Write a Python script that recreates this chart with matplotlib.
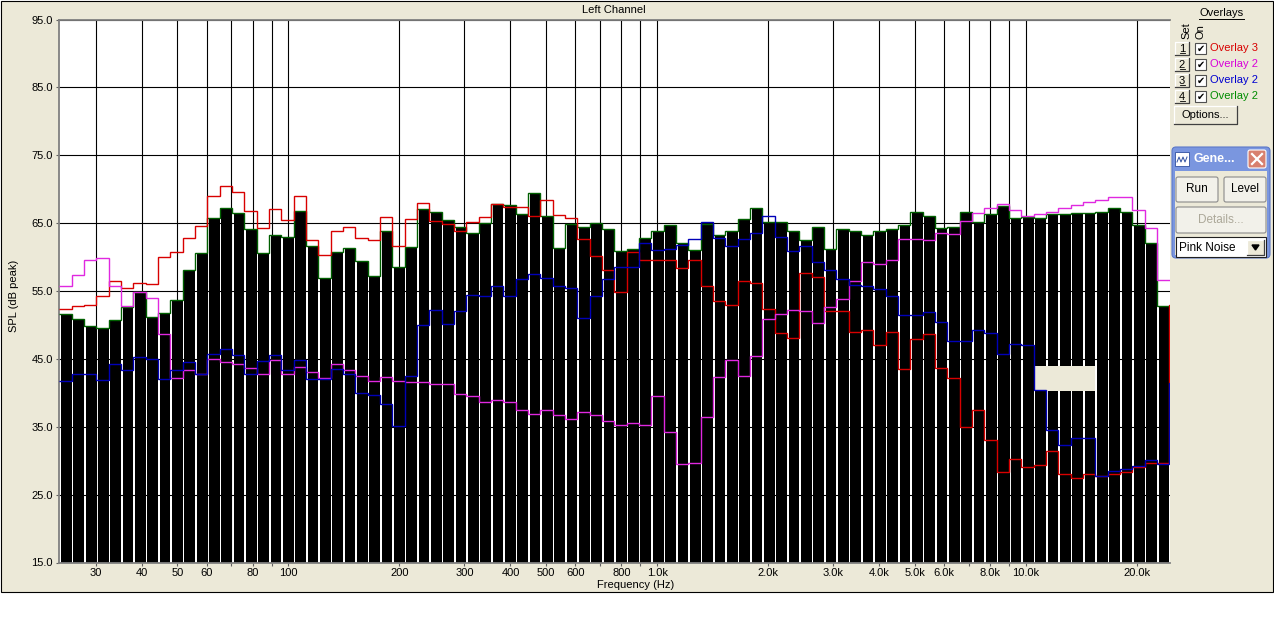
import numpy as np
import matplotlib
matplotlib.use("Agg")
import matplotlib.pyplot as plt
from matplotlib.patches import Rectangle, FancyBboxPatch
from matplotlib.ticker import NullLocator

plt.rcParams['font.family'] = ['Liberation Sans', 'DejaVu Sans']
plt.rcParams['font.size'] = 8

# analyzer bands: 1/9 octave, first band edge in Hz
first_edge_hz = 23.9
bands_per_octave = 9

# measured SPL per band (black bars)
bar_spl = [51.6, 50.9, 49.9, 49.6, 50.7, 52.7, 54.9, 51.1, 51.7, 53.7, 58.1, 60.6, 65.7, 67.2, 66.5,
           64.1, 60.6, 63.2, 62.9, 66.8, 61.6,
           56.9, 60.8, 61.3, 59.4, 57.2, 63.8, 58.6, 61.5, 67.1, 66.6, 65.4, 64.4, 63.6, 65.0, 67.8,
           67.6, 66.3, 69.4, 66.1, 61.3, 64.9, 64.4, 65.0, 64.1, 60.9, 61.2, 62.8, 63.9, 64.7, 62.1, 61.1,
           64.9, 63.2, 63.9, 65.6, 67.3, 65.1, 65.1, 63.9, 62.5, 64.4, 61.2, 64.2, 63.9, 63.2, 63.9,
           64.1, 64.7, 66.6, 66.0, 64.3, 64.5, 66.7, 65.2,
           66.3, 67.5, 65.7, 65.9, 65.7, 66.3, 66.3, 66.5, 66.5, 66.7, 67.3, 66.7, 64.7, 62.1, 52.8]

# overlays (last value = level at the right edge, only its jump is visible)
overlay3_red = [52.4, 52.8, 53.0, 54.3, 56.5, 55.4, 56.2, 56.0, 60.0, 60.8, 62.8, 64.6, 69.0, 70.5, 69.6,
                66.8, 64.3, 67.1, 65.5, 69.0, 62.5,
                60.3, 63.9, 64.4, 62.8, 62.5, 65.9, 61.7, 65.6, 68.0, 65.3, 64.8, 63.9, 65.1, 65.9, 67.8,
                67.4, 67.4, 66.0, 68.4, 66.2, 65.7, 62.6, 60.1, 58.1, 54.8, 60.7, 59.5, 59.5, 59.5, 58.4, 59.6,
                55.7, 53.6, 52.9, 56.5, 56.2, 52.4, 48.8, 48.1, 57.6, 57.1, 52.0, 52.0, 49.0, 49.2, 47.1,
                49.0, 43.5, 48.0, 48.7, 43.7, 42.2, 34.9, 37.5,
                33.1, 28.4, 30.2, 29.0, 29.4, 31.4, 28.1, 27.5, 28.0, 27.8, 28.0, 28.3, 29.0, 29.6, 29.6,
                53.0]
overlay2_magenta = [55.7, 57.3, 59.5, 59.9, 55.7, 52.8, 54.8, 54.0, 48.7, 42.2, 43.3, 42.7, 45.0, 44.5, 44.3,
                    43.6, 42.7, 44.9, 42.7, 43.8, 43.0,
                    42.2, 44.3, 43.3, 42.5, 41.8, 42.4, 41.8, 41.6, 41.6, 41.3, 41.3, 39.8, 39.5, 38.7, 39.0,
                    38.7, 37.4, 36.9, 37.5, 36.8, 36.2, 37.2, 36.8, 35.9, 35.3, 35.6, 35.3, 39.6, 34.2, 29.5, 29.7,
                    36.5, 42.4, 44.8, 42.5, 45.4, 50.9, 51.6, 52.2, 52.1, 50.3, 52.7, 53.8, 56.5, 59.2, 59.0,
                    59.5, 62.7, 62.7, 62.5, 63.6, 63.4, 65.3, 66.5,
                    67.3, 67.8, 66.9, 66.1, 66.4, 66.7, 67.3, 67.7, 68.1, 68.4, 68.8, 68.8, 66.9, 64.3, 56.6,
                    56.6]
overlay2_blue = [41.7, 42.7, 42.7, 41.9, 44.3, 43.4, 45.3, 45.0, 42.1, 43.3, 44.5, 42.7, 45.7, 46.5, 45.6,
                 42.8, 44.7, 45.6, 43.3, 44.8, 42.0,
                 42.1, 43.5, 42.8, 40.0, 39.7, 38.4, 35.1, 42.5, 50.0, 52.2, 50.1, 52.1, 54.4, 54.2, 55.7,
                 54.2, 56.8, 57.5, 56.9, 55.7, 55.4, 51.0, 54.2, 56.7, 58.6, 58.5, 62.0, 61.1, 61.2, 61.8, 62.6,
                 65.2, 62.8, 61.6, 62.6, 63.6, 66.0, 62.9, 60.9, 61.6, 59.3, 58.1, 56.8, 55.9, 55.8, 55.3,
                 54.2, 51.4, 51.5, 51.9, 50.4, 47.7, 47.7, 49.2,
                 48.8, 45.7, 47.2, 47.1, 40.4, 34.5, 32.3, 33.4, 33.4, 27.8, 28.5, 28.8, 29.2, 30.1, 29.5,
                 41.5]

y_ticks = [15, 25, 35, 45, 55, 65, 75, 85, 95]
x_grid = [30, 40, 50, 60, 70, 80, 90, 100, 200, 300, 400, 500, 600, 700, 800, 900,
          1000, 2000, 3000, 4000, 5000, 6000, 7000, 8000, 9000, 10000, 20000]
x_labels = ["30", "40", "50", "60", "", "80", "", "100", "200", "300", "400", "500", "600", "", "800", "",
            "1.0k", "2.0k", "3.0k", "4.0k", "5.0k", "6.0k", "", "8.0k", "", "10.0k", "20.0k"]

overlay_names = ["Overlay 3", "Overlay 2", "Overlay 2", "Overlay 2"]
overlay_text_colors = ["#D80000", "#D800D8", "#0000D0", "#008C00"]

BEIGE = "#ECE9D8"
W, H = 1274, 637

fig = plt.figure(figsize=(W / 100, H / 100), dpi=100, facecolor="white")

# window background
bg = fig.add_axes([0, 0, 1, 1], zorder=0)
bg.set_xlim(0, W)
bg.set_ylim(H, 0)
bg.axis("off")
bg.add_patch(Rectangle((0.5, 0.5), 1272.5, 591.5, facecolor=BEIGE, edgecolor="black", lw=0.8))

# main spectrum axes
left, right, top, bottom = 58.5, 1169.5, 19.5, 562.5
ax = fig.add_axes([left / W, 1 - bottom / H, (right - left) / W, (bottom - top) / H], zorder=2)
ax.set_facecolor("white")

n = len(bar_spl)
edges = first_edge_hz * 2.0 ** (np.arange(n + 2) / bands_per_octave)
bar_left = edges[:n] * 2.0 ** (0.14 / bands_per_octave)
bar_width = edges[1:n + 1] - bar_left
ax.bar(bar_left, np.array(bar_spl) - 15, width=bar_width, bottom=15, align="edge",
       color="black", lw=0, zorder=2, antialiased=False)

# beige tooltip remnant covering a few bars
ax.add_patch(Rectangle((edges[79], 40.3), edges[84] - edges[79], 3.7,
                       facecolor=BEIGE, edgecolor="none", zorder=2.5, antialiased=False))

ax.stairs(bar_spl, edges[:n + 1], baseline=None, color="#006000", lw=1.0, zorder=3)
ax.stairs(overlay3_red, edges, baseline=None, color="#D80000", lw=1.0, zorder=4)
ax.stairs(overlay2_magenta, edges, baseline=None, color="#E028E0", lw=1.0, zorder=5)
ax.stairs(overlay2_blue, edges, baseline=None, color="#0000B8", lw=1.0, zorder=6)

ax.set_xscale("log")
ax.set_xlim(first_edge_hz * 2 ** (-0.8 / 111), edges[n] * 2 ** (0.3 / 111))
ax.set_ylim(15, 95)
ax.set_xticks(x_grid)
ax.set_xticklabels(x_labels)
ax.xaxis.set_minor_locator(NullLocator())
ax.set_yticks(y_ticks)
ax.set_yticklabels([f"{v:.1f}" for v in y_ticks])
ax.grid(True, color="black", lw=0.8)
ax.set_axisbelow(True)
ax.tick_params(axis="both", length=2.5, width=0.8, color="#606060", labelsize=8)
ax.tick_params(axis="y", pad=1.5)
ax.tick_params(axis="x", pad=1.5)
for side in ["left", "top", "bottom"]:
    ax.spines[side].set_color("#808080")
    ax.spines[side].set_linewidth(1.3)
ax.spines["right"].set_visible(False)

fig.text(614 / W, 1 - 10 / H, "Left Channel", ha="center", va="center", fontsize=8)
fig.text(636 / W, 1 - 585 / H, "Frequency (Hz)", ha="center", va="center", fontsize=8)
fig.text(14 / W, 1 - 296 / H, "SPL (dB peak)", ha="center", va="center", rotation=90, fontsize=8)

# right-hand controls
ui = fig.add_axes([0, 0, 1, 1], zorder=3)
ui.set_xlim(0, W)
ui.set_ylim(H, 0)
ui.axis("off")
ui.patch.set_alpha(0)


def raised(x0, y0, x1, y1, face=BEIGE):
    ui.add_patch(Rectangle((x0, y0), x1 - x0, y1 - y0, facecolor=face, edgecolor="none"))
    ui.plot([x0, x0, x1], [y1, y0, y0], color="white", lw=0.9)
    ui.plot([x0, x1, x1], [y1, y1, y0], color="#404040", lw=0.9)


ui.text(1221.5, 12.5, "Overlays", ha="center", va="center", fontsize=8)
ui.plot([1199, 1244], [18.5, 18.5], color="black", lw=0.7)
ui.text(1186, 39, "Set", ha="center", va="bottom", rotation=90, fontsize=8)
ui.text(1200, 39, "On", ha="center", va="bottom", rotation=90, fontsize=8)

for k, (name, col) in enumerate(zip(overlay_names, overlay_text_colors)):
    cy = 48 + 16 * k
    raised(1175, cy - 6, 1189, cy + 7)
    ui.text(1182, cy + 0.5, str(k + 1), ha="center", va="center", fontsize=8)
    ui.plot([1179.5, 1184.5], [cy + 5, cy + 5], color="black", lw=0.6)
    ui.add_patch(Rectangle((1195, cy - 5), 11, 11, facecolor="white", edgecolor="#505050", lw=0.8))
    ui.text(1200.5, cy + 0.5, "\u2714", ha="center", va="center", fontsize=7, family="DejaVu Sans")
    ui.text(1210, cy, name, ha="left", va="center", fontsize=8, color=col)

raised(1174, 106, 1237, 124)
ui.text(1205.5, 115, "Options...", ha="center", va="center", fontsize=8)

# generator mini window
ui.add_patch(FancyBboxPatch((1172, 147), 98, 111, boxstyle="round,pad=0,rounding_size=4",
                            facecolor="#7A96DF", edgecolor="#5C78C8", lw=0.8))
ui.add_patch(Rectangle((1175, 171), 92, 84, facecolor=BEIGE, edgecolor="none"))
ui.add_patch(Rectangle((1175, 152), 14, 14, facecolor="white", edgecolor="#3050A0", lw=0.6))
ui.plot([1177, 1179, 1181, 1183, 1185, 1187], [162, 157, 162, 157, 162, 157], color="#3050A0", lw=0.7)
ui.text(1193, 159.5, "Gene...", ha="left", va="center", fontsize=9, color="white", fontweight="bold")
ui.add_patch(FancyBboxPatch((1248, 150), 18, 18, boxstyle="round,pad=0,rounding_size=2",
                            facecolor="#D8806E", edgecolor="white", lw=0.8))
ui.plot([1252, 1262], [154, 164], color="white", lw=1.6)
ui.plot([1252, 1262], [164, 154], color="white", lw=1.6)

for (x0, y0, x1, y1, label, tc) in [(1176, 177, 1218, 202, "Run", "black"),
                                     (1224, 177, 1266, 202, "Level", "black"),
                                     (1176, 207, 1266, 233, "Details...", "#ACA899")]:
    ui.add_patch(FancyBboxPatch((x0, y0), x1 - x0, y1 - y0, boxstyle="round,pad=0,rounding_size=2",
                                facecolor="#F2F1EA", edgecolor="#8A8A8A", lw=0.8))
    ui.text((x0 + x1) / 2, (y0 + y1) / 2, label, ha="center", va="center", fontsize=8.5, color=tc)

ui.add_patch(Rectangle((1176, 237), 90, 20, facecolor="white", edgecolor="#202020", lw=0.8))
ui.text(1179, 248, "Pink Noise", ha="left", va="center", fontsize=8.5)
raised(1247, 240, 1264, 255)
ui.fill([1252, 1259, 1255.5], [245, 245, 250], color="black")

fig.savefig("out.png", dpi=100, facecolor="white")
